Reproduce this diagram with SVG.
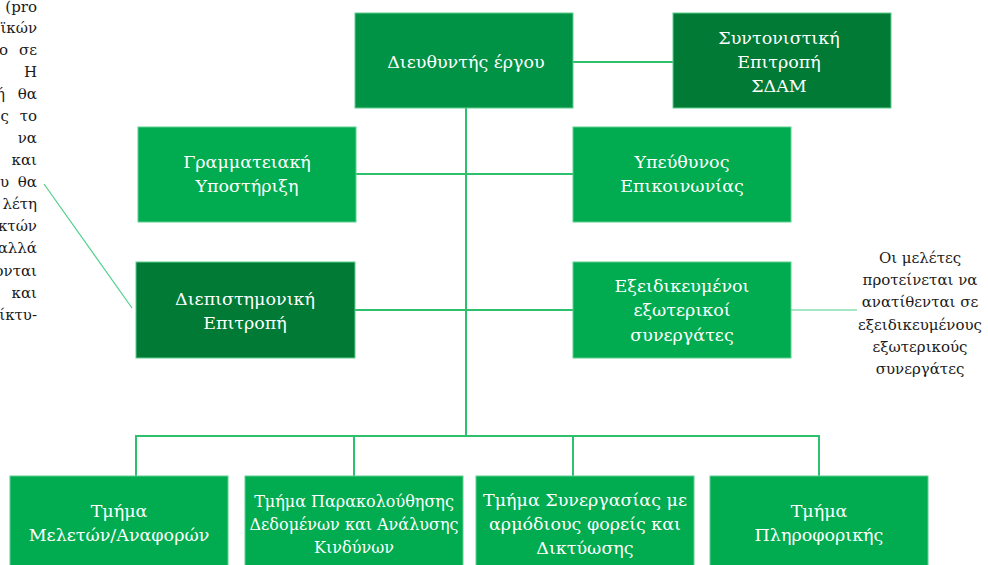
<svg xmlns="http://www.w3.org/2000/svg" width="988" height="565" viewBox="0 0 988 565">
  <style>
    .box { stroke: #5fd08f; stroke-width: 1; }
    .mid { fill: #009245; }
    .main { fill: #00ac4f; }
    .dark { fill: #007a35; }
    .lbl { font-family: "DejaVu Serif", "Liberation Serif", serif; font-size: 17.5px; fill: #ffffff; text-anchor: middle; }
    .tight { font-size: 16px; }
    .note { font-family: "DejaVu Serif", "Liberation Serif", serif; font-size: 15px; fill: #1a1a1a; text-anchor: middle; }
    .side { font-family: "DejaVu Serif", "Liberation Serif", serif; font-size: 15px; fill: #1a1a1a; text-anchor: end; }
    .wire { fill: none; stroke: #2fc06e; stroke-width: 2; }
    .thin { fill: none; stroke: #4fd08c; stroke-width: 1.2; }
  </style>

  <!-- body text running along the left margin -->
  <g id="side-text" class="side">
    <text x="37" y="12">(pro</text>
    <text x="37" y="33">ϊκών</text>
    <text x="8" y="55">ο</text><text x="37" y="55">σε</text>
    <text x="37" y="77">Η</text>
    <text x="5" y="99">ή</text><text x="37" y="99">θα</text>
    <text x="9" y="121">ς</text><text x="37" y="121">το</text>
    <text x="37" y="143">να</text>
    <text x="37" y="165">και</text>
    <text x="9" y="187">υ</text><text x="37" y="187">θα</text>
    <text x="37" y="209">λέτη</text>
    <text x="37" y="231">κτών</text>
    <text x="37" y="253">αλλά</text>
    <text x="37" y="276">ονται</text>
    <text x="37" y="298">και</text>
    <text x="37" y="320">ίκτυ-</text>
  </g>

  <!-- connectors -->
  <g id="connectors">
    <line class="wire" x1="573" y1="62" x2="673" y2="62"/>
    <line class="wire" x1="466" y1="108" x2="466" y2="436"/>
    <line class="wire" x1="356" y1="174" x2="573" y2="174"/>
    <line class="wire" x1="355" y1="310" x2="573" y2="310"/>
    <polyline class="wire" points="136,476 136,436 819,436 819,476"/>
    <line class="wire" x1="354" y1="436" x2="354" y2="476"/>
    <line class="wire" x1="573" y1="436" x2="573" y2="476"/>
    <line class="thin" x1="791" y1="310" x2="857" y2="310"/>
    <line class="thin" x1="44" y1="184" x2="132" y2="308"/>
  </g>

  <g id="director">
    <rect class="box mid" x="355" y="13" width="218" height="95"/>
    <text class="lbl" x="466" y="68">Διευθυντής έργου</text>
  </g>

  <g id="steering">
    <rect class="box dark" x="673" y="13" width="218" height="95"/>
    <text class="lbl" x="779" y="44">Συντονιστική</text>
    <text class="lbl" x="779" y="68">Επιτροπή</text>
    <text class="lbl" x="779" y="92">ΣΔΑΜ</text>
  </g>

  <g id="secretariat">
    <rect class="box main" x="138" y="127" width="218" height="95"/>
    <text class="lbl" x="247" y="168">Γραμματειακή</text>
    <text class="lbl" x="247" y="192">Υποστήριξη</text>
  </g>

  <g id="communication">
    <rect class="box main" x="573" y="127" width="218" height="95"/>
    <text class="lbl" x="682" y="168">Υπεύθυνος</text>
    <text class="lbl" x="682" y="192">Επικοινωνίας</text>
  </g>

  <g id="interdisciplinary">
    <rect class="box dark" x="136" y="262" width="219" height="96"/>
    <text class="lbl" x="245" y="305">Διεπιστημονική</text>
    <text class="lbl" x="245" y="329">Επιτροπή</text>
  </g>

  <g id="external">
    <rect class="box main" x="573" y="262" width="218" height="96"/>
    <text class="lbl" x="682" y="292">Εξειδικευμένοι</text>
    <text class="lbl" x="682" y="316">εξωτερικοί</text>
    <text class="lbl" x="682" y="341">συνεργάτες</text>
  </g>

  <g id="external-note" class="note">
    <text x="920" y="263">Οι μελέτες</text>
    <text x="920" y="285">προτείνεται να</text>
    <text x="920" y="307">ανατίθενται σε</text>
    <text x="920" y="330">εξειδικευμένους</text>
    <text x="920" y="352">εξωτερικούς</text>
    <text x="920" y="374">συνεργάτες</text>
  </g>

  <g id="studies">
    <rect class="box main" x="10" y="476" width="218" height="95"/>
    <text class="lbl" x="119" y="517">Τμήμα</text>
    <text class="lbl" x="119" y="541">Μελετών/Αναφορών</text>
  </g>

  <g id="monitoring">
    <rect class="box main" x="245" y="476" width="218" height="95"/>
    <text class="lbl tight" x="354" y="507">Τμήμα Παρακολούθησης</text>
    <text class="lbl tight" x="354" y="530">Δεδομένων και Ανάλυσης</text>
    <text class="lbl tight" x="354" y="553">Κινδύνων</text>
  </g>

  <g id="cooperation">
    <rect class="box main" x="476" y="476" width="218" height="95"/>
    <text class="lbl" x="585" y="506">Τμήμα Συνεργασίας με</text>
    <text class="lbl" x="585" y="530">αρμόδιους φορείς και</text>
    <text class="lbl" x="585" y="554">Δικτύωσης</text>
  </g>

  <g id="it">
    <rect class="box main" x="710" y="476" width="218" height="95"/>
    <text class="lbl" x="819" y="517">Τμήμα</text>
    <text class="lbl" x="819" y="541">Πληροφορικής</text>
  </g>
</svg>
